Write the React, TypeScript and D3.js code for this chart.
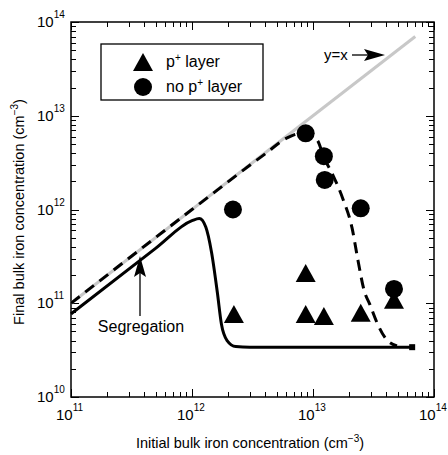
import React from 'react';
import * as d3 from 'd3';

// y = x reference line
const identityX = [1e11, 7e13];

// model curve with p+ layer (solid)
const solidX = [1e11, 5e11, 1e12, 1.15e12, 1.3e12, 1.45e12, 1.62e12, 1.75e12, 1.95e12, 2.3e12, 3e12, 6.6e13];
const solidY = [7.7e10, 3.85e11, 7.6e11, 8.0e11, 6.5e11, 3.5e11, 1.3e11, 6e10, 4e10, 3.45e10, 3.4e10, 3.4e10];

// model curve without p+ layer (dashed)
const dashX = [1e11, 1e12, 4e12, 6.1e12, 7.96e12, 1.08e13, 1.23e13, 1.46e13, 1.77e13, 2.1e13, 2.35e13, 2.64e13, 2.96e13, 3.44e13, 3.94e13, 4.94e13];
const dashY = [1e11, 1e12, 3.9e12, 5.8e12, 6.5e12, 5.5e12, 3.6e12, 2.33e12, 1.29e12, 6.4e11, 2.9e11, 1.38e11, 9.6e10, 5.9e10, 4.3e10, 3.5e10];

// measurements
const pLayerX = [2.22e12, 8.7e12, 8.7e12, 1.23e13, 2.48e13, 4.67e13];
const pLayerY = [7.7e10, 2.1e11, 7.7e10, 7.3e10, 7.9e10, 1.09e11];
const noLayerX = [2.18e12, 8.7e12, 1.23e13, 1.25e13, 2.48e13, 4.67e13];
const noLayerY = [1.0e12, 6.5e12, 3.7e12, 2.07e12, 1.03e12, 1.42e11];

const xDecades = [11, 12, 13, 14];
const yDecades = [10, 11, 12, 13, 14];

const W = 448;
const H = 455;
const FONT = 'Liberation Sans, Arial, Helvetica, sans-serif';

const x = d3.scaleLog().domain([1e11, 1e14]).range([71, 434]);
const y = d3.scaleLog().domain([1e10, 1e14]).range([397, 22]);

const tri = 'M0,-9L10,9L-10,9Z';

function minorTicks(lo: number, hi: number) {
  const out: { v: number; major: boolean }[] = [];
  for (let e = lo; e <= hi; e++) {
    out.push({ v: Math.pow(10, e), major: true });
    if (e < hi) for (let m = 2; m <= 9; m++) out.push({ v: m * Math.pow(10, e), major: false });
  }
  return out;
}

export default function App() {
  const [x0, x1] = x.range();
  const [y0, y1] = y.range();
  const xt = minorTicks(11, 14);
  const yt = minorTicks(10, 14);

  const line = d3
    .line<[number, number]>()
    .x(d => x(d[0]))
    .y(d => y(d[1]))
    .curve(d3.curveMonotoneX);

  const solid = line(solidX.map((v, i) => [v, solidY[i]]));
  const dashed = line(dashX.map((v, i) => [v, dashY[i]]));
  const ident = line(identityX.map(v => [v, v]));

  return (
    <svg width={W} height={H} style={{ position: 'absolute', left: 0, top: 0 }} fontFamily={FONT}>
      <rect width={W} height={H} fill="#fff" />
      {/* ticks */}
      <g stroke="#000" strokeWidth={1}>
        {xt.map((t, i) => {
          const len = t.major ? 8 : 5;
          const px = Math.round(x(t.v)) + 0.5;
          return (
            <g key={'x' + i}>
              <line x1={px} x2={px} y1={y0} y2={y0 - len} />
              <line x1={px} x2={px} y1={y1} y2={y1 + len} />
            </g>
          );
        })}
        {yt.map((t, i) => {
          const len = t.major ? 8 : 5;
          const py = Math.round(y(t.v)) + 0.5;
          return (
            <g key={'y' + i}>
              <line x1={x0} x2={x0 + len} y1={py} y2={py} />
              <line x1={x1} x2={x1 - len} y1={py} y2={py} />
            </g>
          );
        })}
      </g>
      <rect x={x0} y={y1} width={x1 - x0} height={y0 - y1} fill="none" stroke="#000" strokeWidth={1.5} />

      {/* tick labels */}
      {xDecades.map(e => (
        <text key={'xl' + e} x={x(Math.pow(10, e)) - 15} y={420} fontSize={15}>
          10<tspan dy={-9} fontSize={10}>{e}</tspan>
        </text>
      ))}
      {yDecades.map(e => (
        <text key={'yl' + e} x={37} y={y(Math.pow(10, e)) + 5} fontSize={15}>
          10<tspan dy={-9} fontSize={10}>{e}</tspan>
        </text>
      ))}

      {/* axis titles */}
      <text x={250} y={448} fontSize={14.5} textAnchor="middle">
        Initial bulk iron concentration (cm<tspan dy={-6} fontSize={10}>−3</tspan><tspan dy={6}>)</tspan>
      </text>
      <text transform="translate(24,212) rotate(-90)" fontSize={14.5} textAnchor="middle">
        Final bulk iron concentration (cm<tspan dy={-6} fontSize={10}>−3</tspan><tspan dy={6}>)</tspan>
      </text>

      {/* curves */}
      <path d={ident ?? ''} fill="none" stroke="#c8c8c8" strokeWidth={3} />
      <path d={dashed ?? ''} fill="none" stroke="#000" strokeWidth={3} strokeDasharray="11,7" />
      <path d={solid ?? ''} fill="none" stroke="#000" strokeWidth={3} />
      <rect x={x(solidX[solidX.length - 1]) - 3} y={y(solidY[solidY.length - 1]) - 3} width={6} height={6} fill="#000" />

      {/* markers */}
      {noLayerX.map((v, i) => (
        <circle key={'c' + i} cx={x(v)} cy={y(noLayerY[i])} r={9} fill="#000" />
      ))}
      {pLayerX.map((v, i) => (
        <path key={'t' + i} d={tri} transform={`translate(${x(v)},${y(pLayerY[i])})`} fill="#000" />
      ))}

      {/* legend */}
      <rect x={101} y={44} width={162} height={56} fill="#fff" stroke="#000" strokeWidth={1.3} />
      <path d={tri} transform="translate(143,62)" fill="#000" />
      <circle cx={143} cy={87} r={9} fill="#000" />
      <text x={166} y={67} fontSize={16}>
        p<tspan dy={-6} fontSize={10}>+</tspan><tspan dy={6}> layer</tspan>
      </text>
      <text x={166} y={92} fontSize={16}>
        no p<tspan dy={-6} fontSize={10}>+</tspan><tspan dy={6}> layer</tspan>
      </text>

      {/* annotations */}
      <text x={324} y={60} fontSize={15}>y=x</text>
      <line x1={352} x2={372} y1={55} y2={55} stroke="#000" strokeWidth={1.3} />
      <path d="M385,55L364,49L368,55L364,61Z" fill="#000" />
      <text x={141} y={332} fontSize={16} textAnchor="middle">Segregation</text>
      <line x1={140} x2={140} y1={316} y2={268} stroke="#000" strokeWidth={1.3} />
      <path d="M140,256L134,277L140,273L146,277Z" fill="#000" />
    </svg>
  );
}
